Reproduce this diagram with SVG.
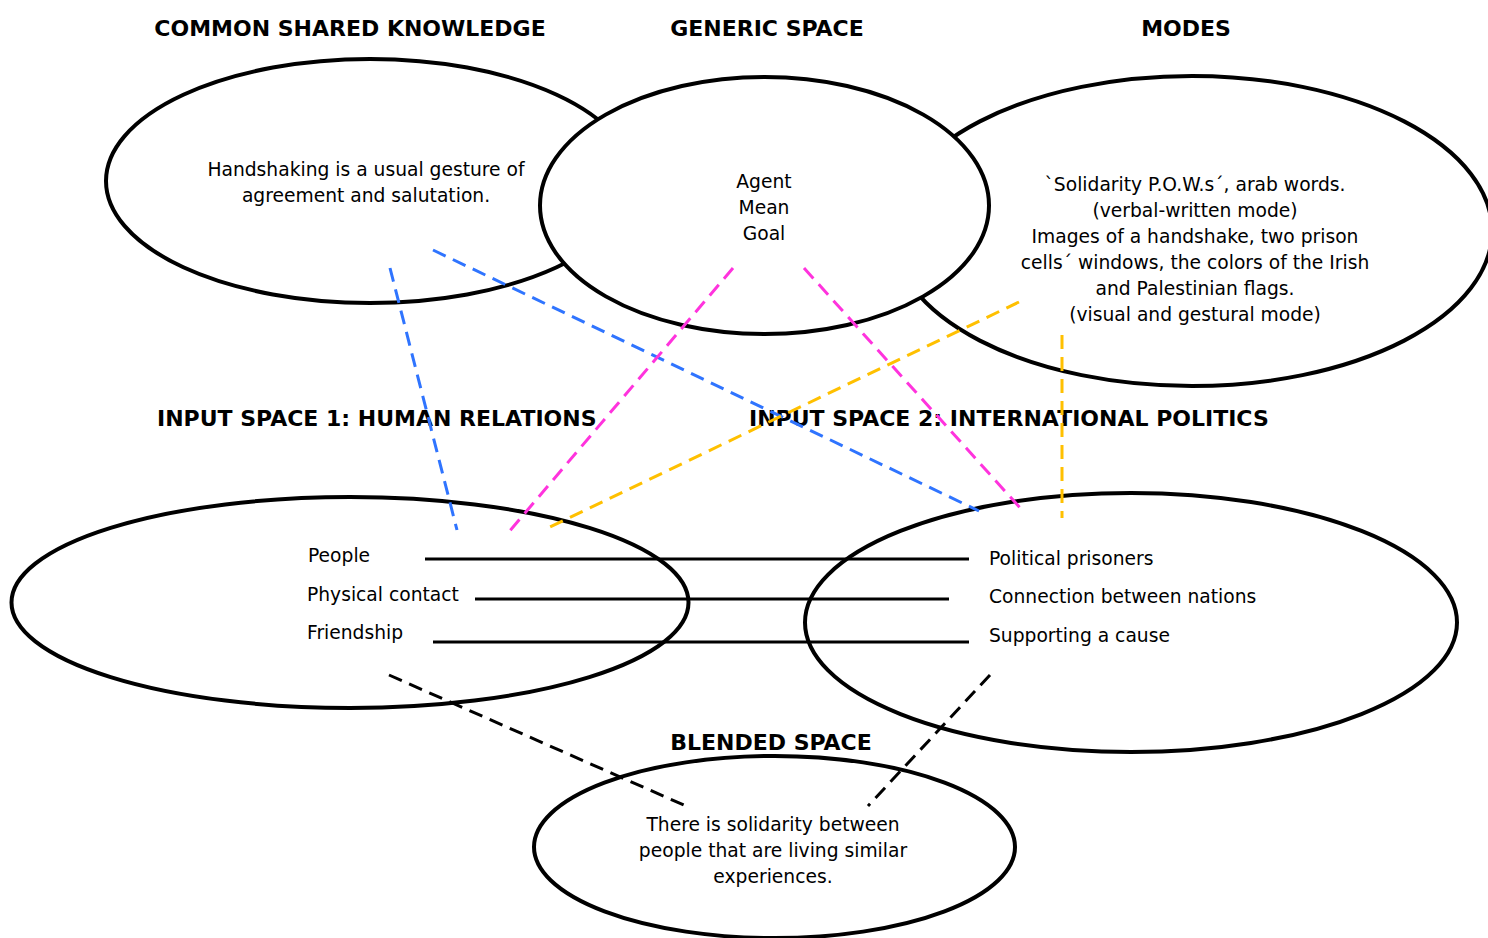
<svg xmlns="http://www.w3.org/2000/svg" width="1488" height="938" viewBox="0 0 1488 938">
  <style>
    .space { fill: #ffffff; stroke: #000000; stroke-width: 4; }
    .title { font-family: "DejaVu Sans", "Liberation Sans", sans-serif; font-weight: bold; font-size: 22px; fill: #000000; }
    .body { font-family: "DejaVu Sans", "Liberation Sans", sans-serif; font-size: 18.7px; fill: #000000; }
    .mid { text-anchor: middle; }
    .map { stroke: #000000; stroke-width: 3; fill: none; }
    .dash { stroke-width: 3; fill: none; stroke-dasharray: 14 8; }
    .blue { stroke: #2f74ff; }
    .pink { stroke: #ff33dd; }
    .gold { stroke: #ffc000; }
    .black { stroke: #000000; }
  </style>

  <rect width="1488" height="938" fill="#ffffff"/>

  <!-- section headings -->
  <g id="titles">
    <text class="title mid" x="350" y="36">COMMON SHARED KNOWLEDGE</text>
    <text class="title mid" x="767" y="36">GENERIC SPACE</text>
    <text class="title mid" x="1186" y="36">MODES</text>
    <text class="title" x="157" y="426">INPUT SPACE 1: HUMAN RELATIONS</text>
    <text class="title" x="749" y="426">INPUT SPACE 2: INTERNATIONAL POLITICS</text>
    <text class="title mid" x="771" y="750">BLENDED SPACE</text>
  </g>

  <g id="common-knowledge">
    <ellipse class="space" cx="370" cy="181" rx="264" ry="122"/>
    <text class="body mid" x="366" y="176">Handshaking is a usual gesture of</text>
    <text class="body mid" x="366" y="202">agreement and salutation.</text>
  </g>

  <g id="modes">
    <ellipse class="space" cx="1192" cy="231" rx="300" ry="155"/>
    <text class="body mid" x="1195" y="191">`Solidarity P.O.W.s´, arab words.</text>
    <text class="body mid" x="1195" y="217">(verbal-written mode)</text>
    <text class="body mid" x="1195" y="243">Images of a handshake, two prison</text>
    <text class="body mid" x="1195" y="269">cells´ windows, the colors of the Irish</text>
    <text class="body mid" x="1195" y="295">and Palestinian flags.</text>
    <text class="body mid" x="1195" y="321">(visual and gestural mode)</text>
  </g>

  <g id="generic-space">
    <ellipse class="space" cx="764.5" cy="205.5" rx="224.5" ry="128.5"/>
    <text class="body mid" x="764" y="188">Agent</text>
    <text class="body mid" x="764" y="214">Mean</text>
    <text class="body mid" x="764" y="240">Goal</text>
  </g>

  <g id="input-space-1">
    <ellipse class="space" cx="350" cy="602.5" rx="338.5" ry="105.5"/>
    <text class="body" x="308" y="562">People</text>
    <text class="body" x="307" y="601">Physical contact</text>
    <text class="body" x="307" y="639">Friendship</text>
  </g>

  <g id="input-space-2">
    <ellipse class="space" cx="1131" cy="622.5" rx="326" ry="129.5"/>
    <text class="body" x="989" y="565">Political prisoners</text>
    <text class="body" x="989" y="603">Connection between nations</text>
    <text class="body" x="989" y="642">Supporting a cause</text>
  </g>

  <g id="blended-space">
    <ellipse class="space" cx="774.5" cy="847" rx="240.5" ry="91"/>
    <text class="body mid" x="773" y="831">There is solidarity between</text>
    <text class="body mid" x="773" y="857">people that are living similar</text>
    <text class="body mid" x="773" y="883">experiences.</text>
  </g>

  <g id="connectors">
    <!-- cross-space mappings between input elements -->
    <line class="map" x1="425" y1="559" x2="969" y2="559"/>
    <line class="map" x1="475" y1="599" x2="949" y2="599"/>
    <line class="map" x1="433" y1="642" x2="969" y2="642"/>
    <!-- common shared knowledge projections -->
    <line class="dash blue" x1="390" y1="268" x2="457" y2="530"/>
    <line class="dash blue" x1="433" y1="250" x2="979" y2="511"/>
    <!-- generic space projections -->
    <line class="dash pink" x1="733" y1="268" x2="508" y2="533"/>
    <line class="dash pink" x1="804" y1="268" x2="1022" y2="510"/>
    <!-- modes projections -->
    <line class="dash gold" x1="1019" y1="302" x2="548" y2="528"/>
    <line class="dash gold" x1="1062" y1="335" x2="1062" y2="518"/>
    <!-- projections into the blend -->
    <line class="dash black" x1="389" y1="675" x2="686" y2="806"/>
    <line class="dash black" x1="990" y1="675" x2="868" y2="806"/>
  </g>
</svg>
